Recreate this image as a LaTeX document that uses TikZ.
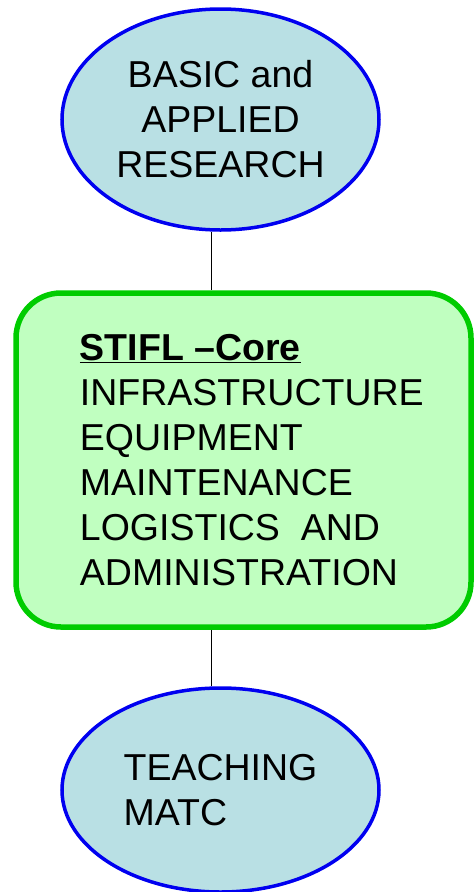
\documentclass[tikz,border=0pt]{standalone}
\usepackage{fontspec}
\setmainfont{Liberation Sans}
\usepackage{tikz}
\usetikzlibrary{shapes.geometric,positioning}

\definecolor{ovalfill}{RGB}{185,224,228}
\definecolor{ovalline}{RGB}{0,0,240}
\definecolor{corefill}{RGB}{192,255,192}
\definecolor{coreline}{RGB}{0,204,0}

\begin{document}
\begin{tikzpicture}[x=1pt, y=-1pt,
    oval/.style={ellipse, draw=ovalline, fill=ovalfill, line width=3.5pt, inner sep=0pt},
    corebox/.style={rectangle, rounded corners=45pt, draw=coreline, fill=corefill, line width=5.5pt,
      minimum width=455pt, minimum height=334pt, inner sep=0pt},
    bigtext/.style={font=\fontsize{37.5}{45}\selectfont}]
  \useasboundingbox (0,0) rectangle (474,892);
  \node (research) [oval, bigtext, minimum width=317pt, minimum height=221pt, align=center]
    at (220.5,119.5) {BASIC and\\ APPLIED\\ RESEARCH};
  \node (core) [corebox] at (243.5,460) {};
  \node (coretext) [bigtext, align=left, inner sep=0pt, anchor=west, right=66.5pt of core.west]
    {\underline{\textbf{STIFL --Core}}\\ INFRASTRUCTURE\\ EQUIPMENT\\ MAINTENANCE\\ LOGISTICS\ \ AND\\ ADMINISTRATION};
  \node (teaching) [oval, bigtext, minimum width=317pt, minimum height=204pt, align=left]
    at (220.5,790) {TEACHING\\ MATC};
  % connectors sit a little left of the oval centres
  \coordinate (upjoin) at ([xshift=-9.5pt]research.south);
  \coordinate (downjoin) at ([xshift=-9.5pt]teaching.north);
  \path[draw, line width=1pt]
  (upjoin) -- (upjoin |- core.north)
  (core.south -| downjoin) -- (downjoin)
  ;
\end{tikzpicture}
\end{document}
